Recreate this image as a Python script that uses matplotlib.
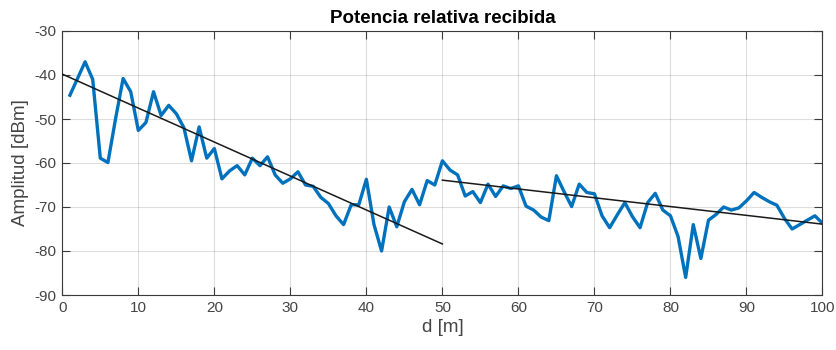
import matplotlib
matplotlib.use("Agg")
import matplotlib.pyplot as plt
import numpy as np

# --- data ---
d = list(range(1, 101))
amplitude = [
    -44.6, -40.8, -37.0, -41.0, -58.9, -59.9, -50.0, -40.8, -43.8, -52.6,
    -50.8, -43.8, -49.2, -46.9, -48.8, -52.0, -59.5, -51.8, -58.9, -56.7,
    -63.6, -61.8, -60.6, -62.7, -58.9, -60.6, -58.6, -62.7, -64.6, -63.6,
    -62.0, -65.0, -65.3, -67.8, -69.2, -72.0, -74.0, -69.5, -69.5, -63.7,
    -74.0, -80.0, -70.0, -74.5, -68.8, -66.0, -69.5, -64.0, -65.0, -59.5,
    -61.6, -62.7, -67.5, -66.5, -69.0, -64.8, -67.6, -65.2, -65.8, -65.2,
    -69.8, -70.7, -72.3, -73.1, -62.9, -66.5, -69.9, -64.8, -66.7, -67.0,
    -72.0, -74.7, -71.8, -69.0, -72.2, -74.7, -69.0, -66.9, -70.7, -72.0,
    -76.7, -86.0, -74.0, -81.7, -73.0, -71.7, -70.0, -70.7, -70.2, -68.6,
    -66.7, -67.8, -68.8, -69.6, -72.6, -75.0, -74.0, -73.0, -72.0, -73.7,
]
fit1_d = [0, 50]
fit1_v = [-39.8, -78.4]
fit2_d = [50, 100]
fit2_v = [-63.9, -73.9]

xticks = [0, 10, 20, 30, 40, 50, 60, 70, 80, 90, 100]
yticks = [-90, -80, -70, -60, -50, -40, -30]

title = "Potencia relativa recibida"
xlabel = "d [m]"
ylabel = "Amplitud [dBm]"

# --- plot ---
plt.rcParams['font.family'] = ['Liberation Sans', 'DejaVu Sans']
axc = '#3a3a3a'

fig = plt.figure(figsize=(8.37, 3.5), dpi=100)
ax = fig.add_axes([62.3 / 837, 1 - 295 / 350, (822.5 - 62.3) / 837, (295 - 31) / 350])

ax.plot(d, amplitude, color='#0072BD', linewidth=2.4, solid_joinstyle='round', zorder=3)
ax.plot(fit1_d, fit1_v, color='#1a1a1a', linewidth=1.1, zorder=4)
ax.plot(fit2_d, fit2_v, color='#1a1a1a', linewidth=1.1, zorder=4)

ax.set_xlim(0, 100)
ax.set_ylim(-90, -30)
ax.set_xticks(xticks)
ax.set_yticks(yticks)
ax.set_xticklabels([str(v) for v in xticks])
ax.set_yticklabels([str(v) for v in yticks])

ax.grid(True, color='#262626', alpha=0.15, linewidth=0.8)
ax.set_axisbelow(True)
for s in ax.spines.values():
    s.set_color(axc)
    s.set_linewidth(0.8)
ax.tick_params(direction='in', length=5.5, width=0.8, colors=axc,
               top=True, right=True, labelsize=11, pad=4)
for lab in ax.get_xticklabels() + ax.get_yticklabels():
    lab.set_color('#444444')

ax.set_title(title, fontsize=13.5, fontweight='bold', color='black', pad=6)
ax.set_xlabel(xlabel, fontsize=13.5, color='#444444', labelpad=3)
ax.set_ylabel(ylabel, fontsize=13.5, color='#444444', labelpad=4)

fig.savefig('out.png', dpi=100)
